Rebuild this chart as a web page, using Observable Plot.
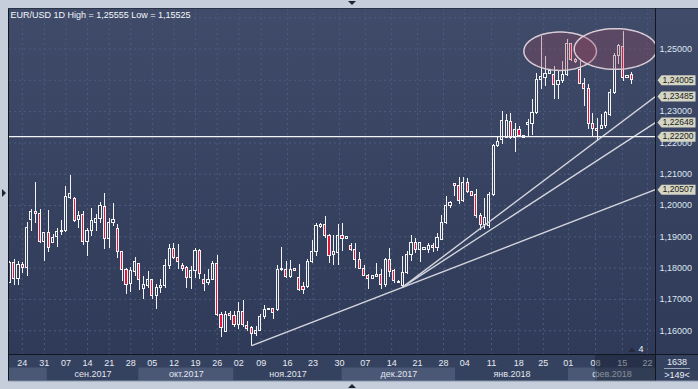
<!DOCTYPE html>
<html><head><meta charset="utf-8">
<script src="https://cdn.jsdelivr.net/npm/d3@7"></script>
<script src="https://cdn.jsdelivr.net/npm/@observablehq/plot@0.6"></script>
<style>
html,body{margin:0;padding:0;background:#c5ceda;}
#wrap{position:relative;width:698px;height:389px;overflow:hidden;}
</style></head><body><div id="wrap"></div>
<script>
// ---- daily EUR/USD candles (bar index 0..144) ----
const openP = [
1.1754,1.1816,1.1765,1.1810,1.1800,1.1953,1.1979,1.1973,1.1883,1.1912,
1.1880,1.1899,1.1914,1.1917,1.2024,1.2021,1.1953,1.1971,1.1885,1.1917,
1.1944,1.1957,1.1995,1.1893,1.1943,1.1925,1.1850,1.1795,1.1750,1.1788,
1.1813,1.1733,1.1744,1.1763,1.1710,1.1738,1.1742,1.1808,1.1861,1.1832,
1.1808,1.1800,1.1768,1.1792,1.1856,1.1763,1.1752,1.1761,1.1813,1.1651,
1.1596,1.1654,1.1648,1.1617,1.1660,1.1616,1.1609,1.1590,1.1598,1.1644,
1.1666,1.1669,1.1667,1.1793,1.1795,1.1771,1.1797,1.1768,1.1739,1.1739,
1.1819,1.1851,1.1932,1.1939,1.1901,1.1841,1.1848,1.1901,1.1893,1.1872,
1.1857,1.1825,1.1797,1.1776,1.1766,1.1772,1.1777,1.1745,1.1827,1.1790,
1.1754,1.1744,1.1784,1.1843,1.1880,1.1859,1.1857,1.1857,1.1872,1.1864,
1.1891,1.1944,1.1997,1.2070,1.2063,1.2013,1.2072,1.2043,1.2035,1.1968,
1.1939,1.1933,1.2032,1.2189,1.2210,1.2216,1.2267,1.2216,1.2242,1.2216,
1.2258,1.2260,1.2295,1.2402,1.2407,1.2420,1.2418,1.2386,1.2397,1.2418,
1.2516,1.2466,1.2432,1.2388,1.2372,1.2260,1.2244,1.2244,1.2255,1.2290,
1.2359,1.2477,1.2505,1.2407,1.2418];
const highP = [
1.1821,1.1827,1.1821,1.1819,1.1946,1.1987,1.2074,1.1987,1.1912,1.1983,
1.1907,1.1925,1.1951,1.2061,1.2095,1.2024,1.1981,1.1981,1.1928,1.1989,
1.1971,1.2010,1.2038,1.1957,1.2006,1.1939,1.1853,1.1800,1.1803,1.1835,
1.1815,1.1774,1.1790,1.1763,1.1747,1.1763,1.1827,1.1875,1.1880,1.1875,
1.1816,1.1805,1.1805,1.1864,1.1861,1.1779,1.1795,1.1821,1.1840,1.1657,
1.1660,1.1662,1.1662,1.1689,1.1696,1.1630,1.1614,1.1614,1.1651,1.1680,
1.1670,1.1672,1.1809,1.1866,1.1821,1.1824,1.1798,1.1811,1.1755,1.1827,
1.1887,1.1944,1.1944,1.1965,1.1907,1.1904,1.1939,1.1941,1.1901,1.1880,
1.1880,1.1850,1.1808,1.1779,1.1776,1.1816,1.1795,1.1832,1.1864,1.1797,
1.1760,1.1838,1.1853,1.1904,1.1896,1.1882,1.1866,1.1880,1.1880,1.1912,
1.1967,1.2029,1.2013,1.2071,1.2088,1.2091,1.2085,1.2045,1.2050,1.1976,
1.2021,1.2040,1.2194,1.2216,1.2299,1.2292,1.2295,1.2263,1.2253,1.2224,
1.2274,1.2338,1.2423,1.2540,1.2477,1.2434,1.2445,1.2429,1.2460,1.2530,
1.2519,1.2471,1.2460,1.2407,1.2386,1.2295,1.2279,1.2290,1.2301,1.2370,
1.2487,1.2514,1.25555,1.2415,1.2425];
const lowP = [
1.1752,1.1744,1.1744,1.1782,1.1774,1.1917,1.1944,1.1880,1.1821,1.1850,
1.1878,1.1867,1.1904,1.1915,1.2019,1.1947,1.1928,1.1873,1.1837,1.1901,
1.1917,1.1944,1.1859,1.1864,1.1933,1.1832,1.1758,1.1715,1.1722,1.1774,
1.1729,1.1699,1.1736,1.1701,1.1667,1.1720,1.1736,1.1795,1.1827,1.1795,
1.1790,1.1736,1.1731,1.1768,1.1765,1.1726,1.1744,1.1761,1.1646,1.1577,
1.1594,1.1632,1.1609,1.1603,1.1609,1.1598,1.15525,1.1583,1.1596,1.1635,
1.1665,1.1635,1.1662,1.1790,1.1766,1.1768,1.1788,1.1726,1.1715,1.1734,
1.1816,1.1838,1.1928,1.1896,1.1816,1.1808,1.1808,1.1854,1.1891,1.1854,
1.1800,1.1795,1.1772,1.1731,1.1765,1.1771,1.1733,1.1737,1.1770,1.1751,
1.1752,1.1740,1.1779,1.1820,1.1848,1.1818,1.1855,1.1848,1.1850,1.1854,
1.1889,1.1939,1.1992,1.2029,1.2003,1.2010,1.2038,1.2029,1.1960,1.1920,
1.1922,1.1928,1.2029,1.2186,1.2194,1.2213,1.2210,1.2168,1.2221,1.2213,
1.2221,1.2223,1.2292,1.2370,1.2381,1.2418,1.2338,1.2338,1.2391,1.2413,
1.2460,1.2455,1.2386,1.2317,1.2242,1.2216,1.2207,1.2242,1.2247,1.2285,
1.2354,1.2450,1.2397,1.2405,1.2386];
const closeP = [
1.1816,1.1765,1.1810,1.1799,1.1928,1.1979,1.1973,1.1883,1.1912,1.1864,
1.1896,1.1914,1.1919,1.2026,1.2037,1.1951,1.1967,1.1885,1.1919,1.1949,
1.1957,1.1997,1.1893,1.1944,1.1955,1.1850,1.1795,1.1745,1.1790,1.1821,
1.1761,1.1747,1.1761,1.1710,1.1738,1.1744,1.1808,1.1861,1.1832,1.1821,
1.1797,1.1768,1.1792,1.1856,1.1781,1.1749,1.1763,1.1813,1.1651,1.1609,
1.1651,1.1648,1.1619,1.1660,1.1619,1.1606,1.1590,1.1600,1.1644,1.1667,
1.1668,1.1657,1.1795,1.1796,1.1771,1.1795,1.1790,1.1729,1.1729,1.1819,
1.1853,1.1933,1.1937,1.1901,1.1840,1.1851,1.1901,1.1893,1.1899,1.1857,
1.1827,1.1797,1.1774,1.1765,1.1774,1.1777,1.1745,1.1827,1.1786,1.1758,
1.1757,1.1784,1.1843,1.1880,1.1857,1.1880,1.1864,1.1872,1.1863,1.1896,
1.1944,1.1997,1.2008,1.2063,1.2013,1.2072,1.2042,1.2031,1.1965,1.1939,
1.1960,1.2032,1.2191,1.2203,1.2269,1.2269,1.2216,1.2242,1.2223,1.2221,
1.2263,1.2295,1.2402,1.2409,1.2420,1.2429,1.2386,1.2397,1.2418,1.2516,
1.2466,1.2458,1.2388,1.2373,1.2260,1.2245,1.2237,1.2255,1.2295,1.2359,
1.2477,1.2508,1.2407,1.2413,1.24005];

// ---- axes / annotations ----
const yGrid = [1.16,1.17,1.18,1.19,1.20,1.21,1.22,1.23,1.24,1.25,1.26];
const yLabels = [1.16,1.17,1.18,1.19,1.20,1.21,1.22,1.23,1.25];
const xTickIdx = [2.9,8,13,18,23,28,33,38,43,48,53,58.2,64.3,70.2,76.3,82.3,88.4,94.4,100.4,105.3,111.5,117.8,123.5,129.3,135.6,141.8,147.6];
const xTickLabels = ["24","31","07","14","21","28","05","12","19","26","02","09","16","23","30","07","14","21","28","04","11","18","25","01","08","15","22"];
const monthEdges = [8.66,29.86,51.85,76.94,103.17,129.33];
const monthNames = ["сен.2017","окт.2017","ноя.2017","дек.2017","янв.2018","фев.2018"];
const levels = [1.24005,1.23485,1.22648,1.22200,1.20507];
const hLevel = 1.22200;
const trendStartIdx = [56,91,91];
const trendStartPrice = [1.15525,1.1740,1.1740];
const trendEndPrice = [1.20507,1.22648,1.23485];
const ellipseCx = [127.4,140.2];
const ellipseCy = [1.2493,1.2500];
const ellipseRx = [8.4,9.55];
const ellipseRy = [0.00613,0.0065];
const barsTotal = "1638", barsShown = ">149<", markerCount = "4";

const xMin = -0.07, xMax = 149.47;
const fmt = v => d3.format(".5f")(v).replace(".", ",");
const candles = openP.map((o,i) => ({i, o, h: highP[i], l: lowP[i], c: closeP[i], up: closeP[i] >= o}));
const trendPts = trendStartIdx.flatMap((s,k) => [{k, x: s, y: trendStartPrice[k]}, {k, x: xMax, y: trendEndPrice[k]}]);
const ellipsePts = ellipseCx.flatMap((cx,k) => d3.range(0,97).map(j => {
  const t = j/96*2*Math.PI;
  return {k, x: cx + ellipseRx[k]*Math.cos(t), y: ellipseCy[k] + ellipseRy[k]*Math.sin(t)};
}));
const xTicks = xTickIdx.map((x,i) => ({x, label: xTickLabels[i]}));
const edges = [xMin, ...monthEdges, xMax];
const monthLabelData = monthNames.map((name,k) => ({name, x: (edges[k+1] + edges[k+2]) / 2}));
const title = `EUR/USD 1D High = ${fmt(d3.max(highP))} Low = ${fmt(d3.min(lowP))}`;

const badge = {draw(ctx) { ctx.moveTo(2,0); ctx.lineTo(6,-5); ctx.lineTo(40,-5); ctx.lineTo(40,5); ctx.lineTo(6,5); ctx.closePath(); }};
const grid = "#4e5b7a";
const wick = "#f3f3f3";

const chart = Plot.plot({
  width: 698, height: 389,
  marginLeft: 9, marginRight: 43, marginTop: 8, marginBottom: 35,
  x: {domain: [xMin, xMax], axis: null},
  y: {domain: [1.15240, 1.26294], axis: null},
  style: {background: "transparent", fontFamily: "'Liberation Sans', Arial, sans-serif", fontSize: "9px", color: "#dfe6f2"},
  marks: [
    Plot.ruleY(yGrid, {stroke: grid, strokeDasharray: "2,3"}),
    Plot.ruleX(xTickIdx, {stroke: grid, strokeDasharray: "2,3"}),
    Plot.ruleX(candles, {x: "i", y1: "l", y2: "h", stroke: wick, strokeWidth: 1, clip: true, shapeRendering: "crispEdges"}),
    Plot.rect(candles.filter(d => d.up), {x1: d => d.i - 0.25, x2: d => d.i + 0.25, y1: "o", y2: "c", fill: "#34415e", stroke: wick, strokeWidth: 1, clip: true, shapeRendering: "crispEdges"}),
    Plot.rect(candles.filter(d => !d.up), {x1: d => d.i - 0.25, x2: d => d.i + 0.25, y1: "o", y2: "c", fill: "#e3143d", stroke: wick, strokeWidth: 1, clip: true, shapeRendering: "crispEdges"}),
    Plot.line(trendPts, {x: "x", y: "y", z: "k", stroke: "#d3d4dc", strokeWidth: 1.4, clip: true}),
    Plot.ruleY([hLevel], {stroke: "#f4f4f4", strokeWidth: 1.4}),
    Plot.line(ellipsePts, {x: "x", y: "y", z: "k", fill: "rgba(150,70,95,0.33)", stroke: "#d9ccd6", strokeWidth: 1.5, clip: true}),
    Plot.text(yLabels, {y: d => d, text: fmt, frameAnchor: "right", dx: 4, textAnchor: "start", lineAnchor: "middle", fill: "#dfe6f2"}),
    Plot.dot(levels, {y: d => d, frameAnchor: "right", symbol: badge, fill: "#d4d5c3"}),
    Plot.text(levels, {y: d => d, text: fmt, frameAnchor: "right", dx: 7, textAnchor: "start", lineAnchor: "middle", fill: "#1c1c1c", fontSize: 8.6}),
    Plot.text(xTicks, {x: "x", text: "label", frameAnchor: "bottom", dy: 9, textAnchor: "middle", lineAnchor: "middle", fill: "#e6eaf2"}),
    Plot.text(monthLabelData, {x: "x", text: "name", frameAnchor: "bottom", dy: 20, textAnchor: "middle", lineAnchor: "middle", fill: "#e0e5ee"}),
    Plot.text([title], {frameAnchor: "top-left", dx: 1, dy: 7, textAnchor: "start", lineAnchor: "middle", fill: "#f4f6fa"})
  ]
});
document.getElementById("wrap").appendChild(chart);

// ---- terminal chrome (panels, borders) ----
const svg = d3.select(chart);
const sx = chart.scale("x");
const X = v => sx.apply ? sx.apply(v) : sx.range[0] + (v - sx.domain[0]) / (sx.domain[1] - sx.domain[0]) * (sx.range[1] - sx.range[0]);
const under = svg.insert("g", ":first-child");
const defs = svg.insert("defs", ":first-child");
const grad = defs.append("linearGradient").attr("id", "bgGrad").attr("x1", 0).attr("y1", 0).attr("x2", 0).attr("y2", 1);
grad.append("stop").attr("offset", "0%").attr("stop-color", "#3f4b69");
grad.append("stop").attr("offset", "100%").attr("stop-color", "#2d3956");
under.append("rect").attr("x", 8).attr("y", 8).attr("width", 690).attr("height", 373).attr("fill", "url(#bgGrad)");
under.append("rect").attr("x", 8).attr("y", 354).attr("width", 690).attr("height", 27).attr("fill", "#35425f");
for (let k = 0; k < edges.length - 1; k++) {
  if (k % 2 === 0) {
    const a = X(edges[k]), b = X(edges[k+1]);
    under.append("rect").attr("x", a).attr("y", 367.5).attr("width", b - a).attr("height", 13).attr("fill", "#4a5876");
  }
}
const over = svg.append("g");
over.append("rect").attr("x", 595).attr("y", 355).attr("width", 60).attr("height", 26).attr("fill", "rgba(20,28,46,0.45)");
const bc = "#11161f";
over.append("line").attr("x1", 8.5).attr("x2", 8.5).attr("y1", 8).attr("y2", 381).attr("stroke", bc);
over.append("line").attr("x1", 8).attr("x2", 698).attr("y1", 8.5).attr("y2", 8.5).attr("stroke", "#2a3246");
over.append("line").attr("x1", 655.5).attr("x2", 655.5).attr("y1", 8).attr("y2", 381).attr("stroke", bc);
over.append("line").attr("x1", 8).attr("x2", 698).attr("y1", 354.5).attr("y2", 354.5).attr("stroke", bc);
over.append("line").attr("x1", 8).attr("x2", 698).attr("y1", 381).attr("y2", 381).attr("stroke", "#8a96aa");
const tx = (x, y, s, fill, anchor) => over.append("text").attr("x", x).attr("y", y).attr("dy", "0.32em")
  .attr("text-anchor", anchor || "middle").attr("fill", fill).attr("font-size", 9).text(s);
tx(677, 362, barsTotal, "#e8ecf3");
over.append("line").attr("x1", 664).attr("x2", 690).attr("y1", 368.5).attr("y2", 368.5).attr("stroke", "#9aa5ba");
tx(677, 375, barsShown, "#e8ecf3");
over.append("path").attr("d", "M628.5,352L635.5,352L632,347.5Z").attr("fill", "#222a3b");
tx(641, 349, markerCount, "#f0f3f8");
over.append("path").attr("d", "M348,1L356,1L352,5Z").attr("fill", "#1e2430");
over.append("path").attr("d", "M348,388L356,388L352,384Z").attr("fill", "#1e2430");
over.append("path").attr("d", "M2,189L2,197L6,193Z").attr("fill", "#1e2430");
</script>
</body></html>
